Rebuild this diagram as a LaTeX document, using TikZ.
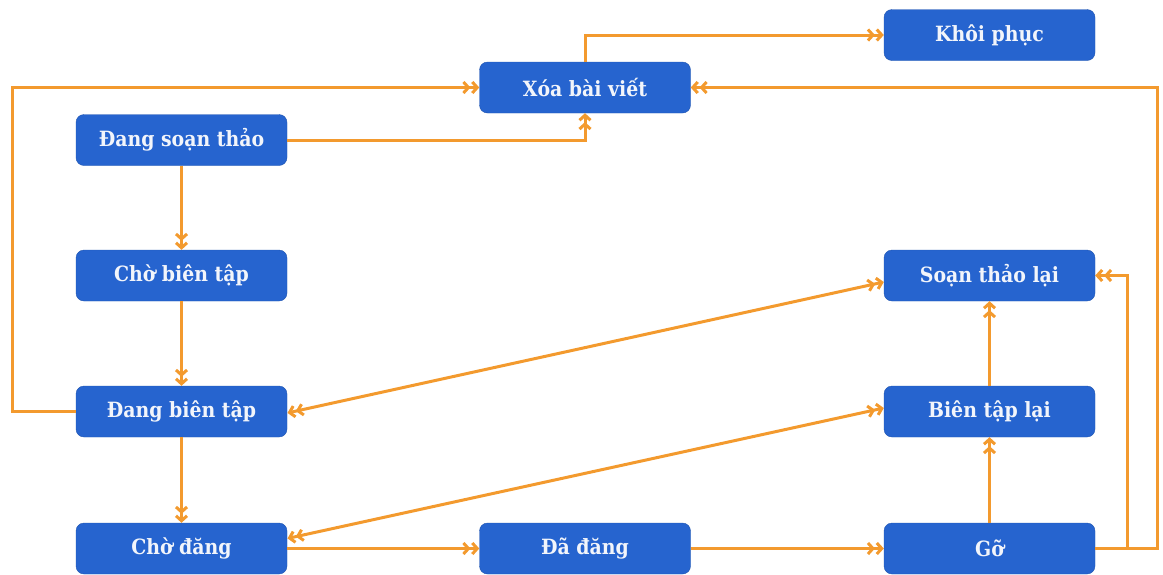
\documentclass[tikz,border=0pt]{standalone}
\usepackage{fontspec}
\setmainfont{DejaVu Serif Condensed}
\usetikzlibrary{arrows.meta}
\definecolor{nodeblue}{HTML}{2664CF}
\definecolor{linkor}{HTML}{F39A2E}
\definecolor{txt}{HTML}{F2F5FB}
\tikzset{
  box/.style={rounded corners=8pt, fill=nodeblue, draw=nodeblue!85!black, line width=0.4pt,
    minimum width=211pt, minimum height=51pt, text=txt, font=\bfseries\fontsize{21}{25}\selectfont, inner sep=0pt},
  link/.style={draw=linkor, line width=3pt, -{Straight Barb[length=5pt,width=11pt,line width=3pt,sep=0.3pt]Straight Barb[length=5pt,width=11pt,line width=3pt]}},
  blink/.style={draw=linkor, line width=3pt, {Straight Barb[length=5pt,width=11pt,line width=3pt,sep=0.3pt]Straight Barb[length=5pt,width=11pt,line width=3pt]}-{Straight Barb[length=5pt,width=11pt,line width=3pt,sep=0.3pt]Straight Barb[length=5pt,width=11pt,line width=3pt]}}
}
\begin{document}
\begin{tikzpicture}[x=1pt,y=-1pt]
\useasboundingbox (0,0) rectangle (1163,574);
\node[box] (khoi) at (989.5,35) {Khôi phục};
\node[box] (xoa) at (585,87.5) {Xóa bài viết};
\node[box] (dst) at (181.5,140) {Đang soạn thảo};
\node[box] (cbt) at (181.5,275.5) {Chờ biên tập};
\node[box] (dbt) at (181.5,411.5) {Đang biên tập};
\node[box] (cd) at (181.5,548.5) {Chờ đăng};
\node[box] (dd) at (585,548.5) {Đã đăng};
\node[box] (go) at (989.5,548.5) {Gỡ};
\node[box] (btl) at (989.5,411.5) {Biên tập lại};
\node[box] (stl) at (989.5,275.5) {Soạn thảo lại};
\coordinate (c1) at (585,140);
\coordinate (c2) at (12,411.5);
\coordinate (c3) at (12,87.5);
\coordinate (c4) at (585,35);
\coordinate (c5) at (1157,548.5);
\coordinate (c6) at (1157,87.5);
\coordinate (c7) at (1127,548.5);
\coordinate (c8) at (1127,275.5);
\draw[link] (dst) -- (cbt);
\draw[link] (cbt) -- (dbt);
\draw[link] (dbt) -- (cd);
\draw[link] (dst.east) -- (c1) -- (xoa.south);
\draw[link] (dbt.west) -- (c2) -- (c3) -- (xoa.west);
\draw[link] (xoa.north) -- (c4) -- (khoi.west);
\draw[link] (go.east) -- (c5) -- (c6) -- (xoa.east);
\draw[link] (c7) -- (c8) -- (stl.east);
\draw[link] (go) -- (btl);
\draw[link] (btl) -- (stl);
\draw[link] (cd) -- (dd);
\draw[link] (dd) -- (go);
\draw[blink] ([yshift=10pt]cd.east) -- ([yshift=3.5pt]btl.west);
\draw[blink] ([yshift=-1.5pt]dbt.east) -- ([yshift=-6.5pt]stl.west);
\end{tikzpicture}
\end{document}
